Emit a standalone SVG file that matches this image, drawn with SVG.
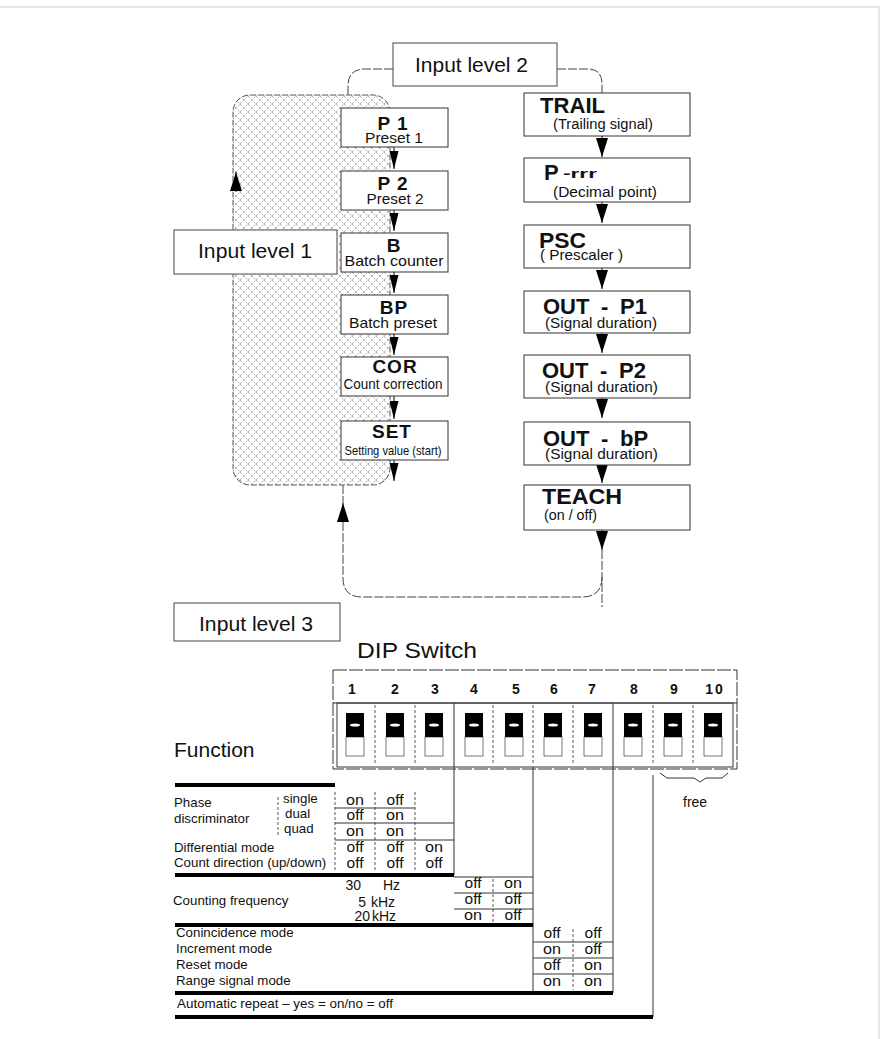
<svg xmlns="http://www.w3.org/2000/svg" width="883" height="1039" viewBox="0 0 883 1039">
<defs>
<style>
text{font-family:"Liberation Sans",Arial,sans-serif;fill:#111}
.box{fill:#fff;stroke:#333;stroke-width:1}
.lvl{fill:#fff;stroke:#444;stroke-width:1}
.lv{font-size:20px}
.t1{font-size:19px;font-weight:bold;text-anchor:middle;letter-spacing:1px}
.s1{font-size:15px;text-anchor:middle}
.t2{font-size:22px;font-weight:bold}
.s2{font-size:15.5px}
.conn{fill:none;stroke:#444;stroke-width:1;stroke-dasharray:9 2}
.al{stroke:#000;stroke-width:1;marker-end:url(#arrL)}
.ar{stroke:#000;stroke-width:1;marker-end:url(#arrR)}
.tb{font-size:13.3px}
.tc{font-size:14px;text-anchor:middle}
.num{font-size:14px;font-weight:bold;text-anchor:middle}
.bar{stroke:#000;stroke-width:4}
.thin{stroke:#333;stroke-width:1;fill:none}
.dash{stroke:#555;stroke-width:1;stroke-dasharray:3 2;fill:none}
.sw{fill:#000}
.swl{fill:#fff;stroke:#555;stroke-width:0.8}
</style>
<pattern id="hatch" width="8" height="8" patternUnits="userSpaceOnUse">
<path d="M0,8 L8,0" stroke="#8c8c8c" stroke-width="0.7" stroke-dasharray="2.5 1.5"/>
<path d="M0,0 L8,8" stroke="#8c8c8c" stroke-width="0.7" stroke-dasharray="2.5 1.5"/>
</pattern>
<marker id="arrL" viewBox="0 0 18 9" markerWidth="18" markerHeight="9" refX="18" refY="4.5" orient="auto" markerUnits="userSpaceOnUse"><path d="M0,0L18,4.5L0,9Z" fill="#000"/></marker>
<marker id="arrR" viewBox="0 0 19 12" markerWidth="19" markerHeight="12" refX="19" refY="6" orient="auto" markerUnits="userSpaceOnUse"><path d="M0,0L19,6L0,12Z" fill="#000"/></marker>
</defs>

<rect x="-1" y="7" width="880" height="1040" fill="none" stroke="#e6e6e6" stroke-width="2"/>

<g id="level1-area">
<rect x="233" y="95" width="157" height="390" rx="17" fill="url(#hatch)" stroke="#555" stroke-width="1" stroke-dasharray="6 2"/>
</g>

<g id="connectors">
<path class="conn" d="M393,69 L365,69 Q348,69 348,86 L348,95"/>
<path class="conn" d="M557,69 L588,69 Q602,69 602,84 L602,93"/>
<path class="conn" d="M602,550 L602,607"/>
<path class="conn" d="M602,577 Q602,597 582,597 L362,597 Q343,597 343,578 L343,521"/>
<path class="conn" d="M343,485 L343,503"/>
<line class="ar" x1="343" y1="522" x2="343" y2="503"/>
<line class="ar" x1="236" y1="192" x2="236" y2="172"/>
<line class="al" x1="394" y1="147" x2="394" y2="169"/>
<line class="al" x1="394" y1="210" x2="394" y2="231"/>
<line class="al" x1="394" y1="272" x2="394" y2="293"/>
<line class="al" x1="394" y1="334" x2="394" y2="355"/>
<line class="al" x1="394" y1="396" x2="394" y2="419"/>
<line class="al" x1="394" y1="460" x2="394" y2="481"/>
<line class="ar" x1="602" y1="136" x2="602" y2="157"/>
<line class="ar" x1="602" y1="202" x2="602" y2="223"/>
<line class="ar" x1="602" y1="268" x2="602" y2="289"/>
<line class="ar" x1="602" y1="333" x2="602" y2="353"/>
<line class="ar" x1="602" y1="398" x2="602" y2="418"/>
<line class="ar" x1="602" y1="465" x2="602" y2="483"/>
<line class="ar" x1="602" y1="530" x2="602" y2="550"/>
</g>

<g id="input-level-2">
<rect class="lvl" x="393" y="43" width="164" height="43"/>
<text class="lv" x="415" y="72" textLength="113" lengthAdjust="spacingAndGlyphs">Input level 2</text>
</g>
<g id="input-level-1">
<rect class="lvl" x="174" y="230" width="163" height="44"/>
<text class="lv" x="198" y="258" textLength="114" lengthAdjust="spacingAndGlyphs">Input level 1</text>
</g>
<g id="input-level-3">
<rect class="lvl" x="174" y="603" width="166" height="38"/>
<text class="lv" x="199" y="631" textLength="114" lengthAdjust="spacingAndGlyphs">Input level 3</text>
</g>

<g id="p1"><rect class="box" x="341" y="108" width="107" height="39"/><text class="t1" x="393" y="130">P 1</text><text class="s1" x="394" y="143" textLength="58" lengthAdjust="spacingAndGlyphs">Preset 1</text></g>
<g id="p2"><rect class="box" x="341" y="171" width="107" height="39"/><text class="t1" x="393" y="190">P 2</text><text class="s1" x="395" y="204" textLength="57" lengthAdjust="spacingAndGlyphs">Preset 2</text></g>
<g id="b"><rect class="box" x="341" y="233" width="107" height="39"/><text class="t1" x="394" y="252">B</text><text class="s1" x="394" y="266" textLength="99" lengthAdjust="spacingAndGlyphs">Batch counter</text></g>
<g id="bp"><rect class="box" x="341" y="295" width="107" height="39"/><text class="t1" x="394" y="314">BP</text><text class="s1" x="393" y="328" textLength="88" lengthAdjust="spacingAndGlyphs">Batch preset</text></g>
<g id="cor"><rect class="box" x="341" y="357" width="107" height="39"/><text class="t1" x="395" y="373">COR</text><text class="s1" x="393" y="389" textLength="99" lengthAdjust="spacingAndGlyphs">Count correction</text></g>
<g id="set"><rect class="box" x="341" y="421" width="107" height="39"/><text class="t1" x="392" y="438">SET</text><text class="s1" x="393" y="455" style="font-size:13px" textLength="97" lengthAdjust="spacingAndGlyphs">Setting value (start)</text></g>

<g id="trail"><rect class="box" x="524" y="93" width="166" height="43"/><text class="t2" x="540" y="113" textLength="65" lengthAdjust="spacingAndGlyphs">TRAIL</text><text class="s2" x="553" y="129" textLength="100" lengthAdjust="spacingAndGlyphs">(Trailing signal)</text></g>
<g id="decimal"><rect class="box" x="524" y="158" width="166" height="44"/><text class="t2" x="544" y="180">P</text><text x="563" y="178" style="font-size:13px;font-weight:bold" textLength="34" lengthAdjust="spacingAndGlyphs">-rrr</text><text class="s2" x="553" y="197" textLength="104" lengthAdjust="spacingAndGlyphs">(Decimal point)</text></g>
<g id="psc"><rect class="box" x="524" y="225" width="166" height="43"/><text class="t2" x="539" y="248" textLength="47" lengthAdjust="spacingAndGlyphs">PSC</text><text class="s2" x="540" y="260" textLength="83" lengthAdjust="spacingAndGlyphs">( Prescaler )</text></g>
<g id="out-p1"><rect class="box" x="524" y="291" width="166" height="42"/><text class="t2" x="543" y="314" word-spacing="5.5">OUT - P1</text><text class="s2" x="545" y="328" textLength="112" lengthAdjust="spacingAndGlyphs">(Signal duration)</text></g>
<g id="out-p2"><rect class="box" x="524" y="355" width="166" height="43"/><text class="t2" x="542" y="378" word-spacing="5.5">OUT - P2</text><text class="s2" x="545" y="392" textLength="113" lengthAdjust="spacingAndGlyphs">(Signal duration)</text></g>
<g id="out-bp"><rect class="box" x="524" y="422" width="166" height="43"/><text class="t2" x="543" y="446" word-spacing="5.5">OUT - bP</text><text class="s2" x="545" y="459" textLength="113" lengthAdjust="spacingAndGlyphs">(Signal duration)</text></g>
<g id="teach"><rect class="box" x="524" y="485" width="166" height="45"/><text class="t2" x="542" y="504" textLength="80" lengthAdjust="spacingAndGlyphs">TEACH</text><text class="s2" x="544" y="520" textLength="53" lengthAdjust="spacingAndGlyphs">(on / off)</text></g>

<g id="dip-switch">
<text x="357" y="658" style="font-size:22px" textLength="120" lengthAdjust="spacingAndGlyphs">DIP Switch</text>
<rect class="thin" x="333" y="670" width="404" height="99" stroke-dasharray="14 2"/>
<line class="thin" x1="333" y1="703" x2="737" y2="703"/>
<rect class="thin" x="337" y="703" width="396" height="64"/>
<line class="thin" x1="454" y1="703" x2="454" y2="767"/>
<line class="thin" x1="613" y1="703" x2="613" y2="767"/>
<g class="dash">
<line x1="375" y1="705" x2="375" y2="765"/><line x1="415" y1="705" x2="415" y2="765"/>
<line x1="493" y1="705" x2="493" y2="765"/><line x1="533" y1="705" x2="533" y2="765"/>
<line x1="573" y1="705" x2="573" y2="765"/><line x1="653" y1="705" x2="653" y2="765"/>
<line x1="693" y1="705" x2="693" y2="765"/>
</g>
<text class="num" x="352" y="694">1</text><text class="num" x="395" y="694">2</text><text class="num" x="435" y="694">3</text>
<text class="num" x="474" y="694">4</text><text class="num" x="516" y="694">5</text><text class="num" x="554" y="694">6</text>
<text class="num" x="592" y="694">7</text><text class="num" x="634" y="694">8</text><text class="num" x="674" y="694">9</text>
<text class="num" x="715" y="694" letter-spacing="2">10</text>
<g id="switches">
<rect class="swl" x="346" y="737" width="18" height="19"/><rect class="sw" x="346" y="713" width="18" height="24"/><ellipse cx="355" cy="725" rx="5" ry="1.6" fill="#fff"/>
<rect class="swl" x="386" y="737" width="18" height="19"/><rect class="sw" x="386" y="713" width="18" height="24"/><ellipse cx="395" cy="725" rx="5" ry="1.6" fill="#fff"/>
<rect class="swl" x="425" y="737" width="18" height="19"/><rect class="sw" x="425" y="713" width="18" height="24"/><ellipse cx="434" cy="725" rx="5" ry="1.6" fill="#fff"/>
<rect class="swl" x="465" y="737" width="18" height="19"/><rect class="sw" x="465" y="713" width="18" height="24"/><ellipse cx="474" cy="725" rx="5" ry="1.6" fill="#fff"/>
<rect class="swl" x="505" y="737" width="18" height="19"/><rect class="sw" x="505" y="713" width="18" height="24"/><ellipse cx="514" cy="725" rx="5" ry="1.6" fill="#fff"/>
<rect class="swl" x="544" y="737" width="18" height="19"/><rect class="sw" x="544" y="713" width="18" height="24"/><ellipse cx="553" cy="725" rx="5" ry="1.6" fill="#fff"/>
<rect class="swl" x="584" y="737" width="18" height="19"/><rect class="sw" x="584" y="713" width="18" height="24"/><ellipse cx="593" cy="725" rx="5" ry="1.6" fill="#fff"/>
<rect class="swl" x="624" y="737" width="18" height="19"/><rect class="sw" x="624" y="713" width="18" height="24"/><ellipse cx="633" cy="725" rx="5" ry="1.6" fill="#fff"/>
<rect class="swl" x="664" y="737" width="18" height="19"/><rect class="sw" x="664" y="713" width="18" height="24"/><ellipse cx="673" cy="725" rx="5" ry="1.6" fill="#fff"/>
<rect class="swl" x="704" y="737" width="18" height="19"/><rect class="sw" x="704" y="713" width="18" height="24"/><ellipse cx="713" cy="725" rx="5" ry="1.6" fill="#fff"/>
</g>
<path class="thin" d="M660,773 L667,778 L694,778 L700,782 L706,778 L722,778 L728,773" stroke-width="0.9"/>
<text class="tb" x="683" y="807" style="font-size:14px">free</text>
</g>

<g id="function-table">
<text x="174" y="757" style="font-size:21px">Function</text>
<line class="thin" x1="454" y1="767" x2="454" y2="875"/>
<line class="thin" x1="533" y1="767" x2="533" y2="993"/>
<line class="thin" x1="613" y1="767" x2="613" y2="993"/>
<line class="thin" x1="653" y1="775" x2="653" y2="1017"/>
<line class="bar" x1="175" y1="785" x2="335" y2="785"/>
<text class="tb" x="174" y="807">Phase</text>
<text class="tb" x="174" y="823">discriminator</text>
<line class="dash" x1="278" y1="797" x2="278" y2="837" stroke-dasharray="2 2"/>
<text class="tb" x="283" y="803">single</text>
<text class="tb" x="285" y="818">dual</text>
<text class="tb" x="284" y="833">quad</text>
<g class="dash"><line x1="335" y1="792" x2="335" y2="872"/><line x1="375" y1="792" x2="375" y2="872"/><line x1="415" y1="792" x2="415" y2="872"/></g>
<line class="thin" x1="335" y1="808" x2="415" y2="808"/>
<line class="thin" x1="335" y1="823" x2="454" y2="823"/>
<line class="thin" x1="335" y1="840" x2="454" y2="840"/>
<text class="tc" x="355" y="805" textLength="18" lengthAdjust="spacingAndGlyphs">on</text><text class="tc" x="395" y="805" textLength="17" lengthAdjust="spacingAndGlyphs">off</text>
<text class="tc" x="355" y="820" textLength="17" lengthAdjust="spacingAndGlyphs">off</text><text class="tc" x="395" y="820" textLength="18" lengthAdjust="spacingAndGlyphs">on</text>
<text class="tc" x="355" y="836" textLength="18" lengthAdjust="spacingAndGlyphs">on</text><text class="tc" x="395" y="836" textLength="18" lengthAdjust="spacingAndGlyphs">on</text>
<text class="tb" x="174" y="852">Differential mode</text>
<text class="tc" x="355" y="852" textLength="17" lengthAdjust="spacingAndGlyphs">off</text><text class="tc" x="395" y="852" textLength="17" lengthAdjust="spacingAndGlyphs">off</text><text class="tc" x="434" y="852" textLength="18" lengthAdjust="spacingAndGlyphs">on</text>
<text class="tb" x="174" y="867">Count direction (up/down)</text>
<text class="tc" x="355" y="868" textLength="17" lengthAdjust="spacingAndGlyphs">off</text><text class="tc" x="395" y="868" textLength="17" lengthAdjust="spacingAndGlyphs">off</text><text class="tc" x="434" y="868" textLength="17" lengthAdjust="spacingAndGlyphs">off</text>
<line class="bar" x1="175" y1="875" x2="454" y2="875"/>

<line class="thin" x1="454" y1="877" x2="533" y2="877"/>
<text class="tc" x="361" y="890" style="text-anchor:end">30</text>
<text class="tb" x="383" y="890" style="font-size:14px">Hz</text>
<text class="tb" x="173" y="905">Counting frequency</text>
<text class="tc" x="366" y="907" style="text-anchor:end">5</text>
<text class="tb" x="371" y="907" style="font-size:14px">kHz</text>
<text class="tc" x="370" y="921" style="text-anchor:end">20</text>
<text class="tb" x="372" y="921" style="font-size:14px">kHz</text>
<line class="dash" x1="493" y1="879" x2="493" y2="922"/>
<line class="thin" x1="454" y1="893" x2="533" y2="893"/>
<line class="thin" x1="454" y1="909" x2="533" y2="909"/>
<text class="tc" x="473" y="888" textLength="17" lengthAdjust="spacingAndGlyphs">off</text><text class="tc" x="513" y="888" textLength="18" lengthAdjust="spacingAndGlyphs">on</text>
<text class="tc" x="473" y="904" textLength="17" lengthAdjust="spacingAndGlyphs">off</text><text class="tc" x="513" y="904" textLength="17" lengthAdjust="spacingAndGlyphs">off</text>
<text class="tc" x="473" y="920" textLength="18" lengthAdjust="spacingAndGlyphs">on</text><text class="tc" x="513" y="920" textLength="17" lengthAdjust="spacingAndGlyphs">off</text>
<line class="bar" x1="175" y1="925" x2="533" y2="925"/>

<line class="dash" x1="573" y1="929" x2="573" y2="990"/>
<line class="thin" x1="533" y1="942" x2="613" y2="942"/>
<line class="thin" x1="533" y1="958" x2="613" y2="958"/>
<line class="thin" x1="533" y1="974" x2="613" y2="974"/>
<text class="tb" x="176" y="937">Conincidence mode</text>
<text class="tb" x="176" y="953">Increment mode</text>
<text class="tb" x="176" y="969">Reset mode</text>
<text class="tb" x="176" y="985">Range signal mode</text>
<text class="tc" x="552" y="938" textLength="17" lengthAdjust="spacingAndGlyphs">off</text><text class="tc" x="593" y="938" textLength="17" lengthAdjust="spacingAndGlyphs">off</text>
<text class="tc" x="552" y="954" textLength="18" lengthAdjust="spacingAndGlyphs">on</text><text class="tc" x="593" y="954" textLength="17" lengthAdjust="spacingAndGlyphs">off</text>
<text class="tc" x="552" y="970" textLength="17" lengthAdjust="spacingAndGlyphs">off</text><text class="tc" x="593" y="970" textLength="18" lengthAdjust="spacingAndGlyphs">on</text>
<text class="tc" x="552" y="986" textLength="18" lengthAdjust="spacingAndGlyphs">on</text><text class="tc" x="593" y="986" textLength="18" lengthAdjust="spacingAndGlyphs">on</text>
<line class="bar" x1="175" y1="993" x2="613" y2="993"/>
<text class="tb" x="177" y="1008" textLength="216" lengthAdjust="spacingAndGlyphs">Automatic repeat  –  yes = on/no = off</text>
<line class="bar" x1="175" y1="1017" x2="653" y2="1017"/>
</g>
</svg>
